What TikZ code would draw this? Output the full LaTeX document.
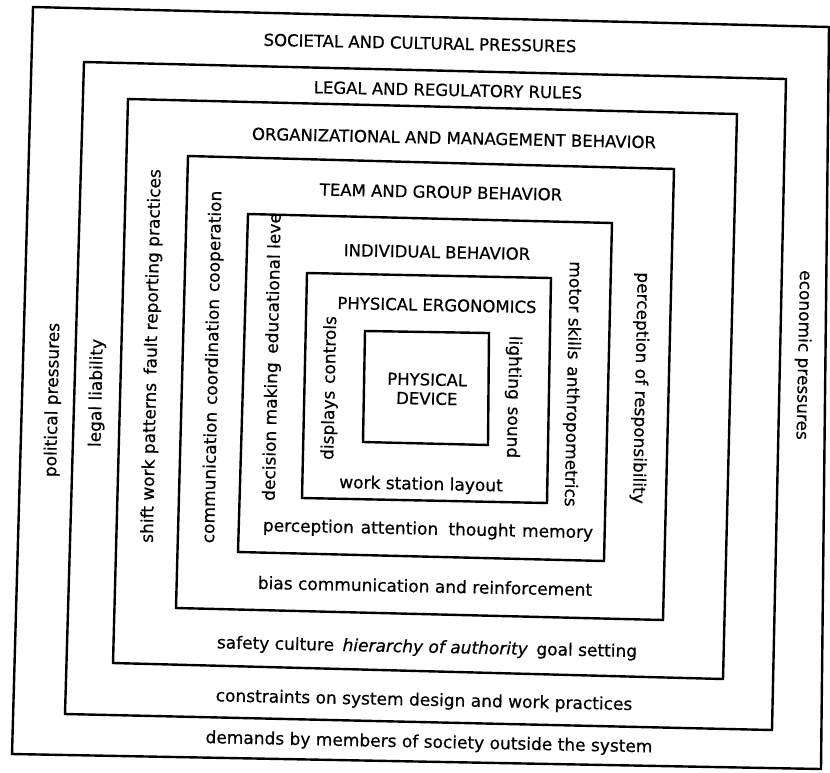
\documentclass[tikz,border=0pt]{standalone}
\usepackage{fontspec}
\setmainfont{DejaVu Sans}[FakeBold=0.6]
\usepackage{tikz}

\begin{document}
\begin{tikzpicture}[x=1pt, y=-1pt,
        frame/.style={line width=2.4pt, line join=miter},
        capslbl/.style={font=\fontsize{16.5}{19}\selectfont, inner sep=0pt, rotate=-1.2},
        lowlbl/.style={font=\fontsize{17}{19}\selectfont, inner sep=0pt, rotate=-1.2},
        uplbl/.style={font=\fontsize{17}{19}\selectfont, inner sep=0pt, rotate=88.8},
        downlbl/.style={font=\fontsize{17}{19}\selectfont, inner sep=0pt, rotate=-91.2}]
            \useasboundingbox (0,0) rectangle (830,772);

            \draw[frame] (33,7) -- (829,27) -- (821,769) -- (12,754) -- cycle;
            \draw[frame] (84,62) -- (786,79) -- (772,730) -- (65,714) -- cycle;
            \draw[frame] (128,99) -- (737,114) -- (723,679) -- (113,663) -- cycle;
            \draw[frame] (188,156) -- (674,169) -- (663,620) -- (176,608) -- cycle;
            \draw[frame] (248,214) -- (612,223) -- (604,561) -- (238,552) -- cycle;
            \draw[frame] (307,273) -- (551,278) -- (547,503) -- (302,498) -- cycle;
            \draw[frame] (365,331) -- (489,333) -- (488,445) -- (363,442) -- cycle;

            \node[capslbl] at (420,43)  (societal) {SOCIETAL AND CULTURAL PRESSURES};
            \node[lowlbl]  at (429,743) (demands) {demands by members of society outside the system};
            \node[uplbl]   at (53,400)  (political) {political pressures};
            \node[downlbl] at (803,355) (economic) {economic pressures};

            \node[capslbl] at (448,90)  (legal) {LEGAL AND REGULATORY RULES};
            \node[lowlbl]  at (424,701) (constraints) {constraints on system design and work practices};
            \node[uplbl]   at (97,393)  (liability) {legal liability};

            \node[capslbl] at (454,138) (organiz) {ORGANIZATIONAL AND MANAGEMENT BEHAVIOR};
            \node[lowlbl]  at (427,648) (safety) {safety culture\hspace{0.5em}\textit{hierarchy of authority}\hspace{0.5em}goal setting};
            \node[uplbl]   at (152,356) (shift) {shift work patterns\hspace{0.5em}fault reporting practices};

            \node[capslbl] at (441,192) (team) {TEAM AND GROUP BEHAVIOR};
            \node[lowlbl]  at (425,586) (bias) {bias communication and reinforcement};
            \node[uplbl]   at (213,367) (commun) {communication\hspace{0.4em}coordination\hspace{0.4em}cooperation};
            \node[downlbl] at (640,388) (respons) {perception of responsibility};

            \node[capslbl] at (437,252) (individ) {INDIVIDUAL BEHAVIOR};
            \node[lowlbl]  at (428,530) (percept) {perception\hspace{0.4em}attention\hspace{0.6em}thought\hspace{0.4em}memory};
            \node[uplbl]   at (273,357) (decision) {decision making\hspace{0.5em}educational leve};
            \node[downlbl] at (572,384) (motor) {motor skills\hspace{0.4em}anthropometrics};

            \node[capslbl] at (437,305) (ergonom) {PHYSICAL ERGONOMICS};
            \node[lowlbl]  at (421,485) (station) {work station layout};
            \node[uplbl]   at (330,388) (displays) {displays\hspace{0.4em}controls};
            \node[downlbl] at (513,397) (lighting) {lighting\hspace{0.4em}sound};

            \node[capslbl, align=center] at (427,389) (device) {PHYSICAL\\DEVICE};
        \end{tikzpicture}
\end{document}
